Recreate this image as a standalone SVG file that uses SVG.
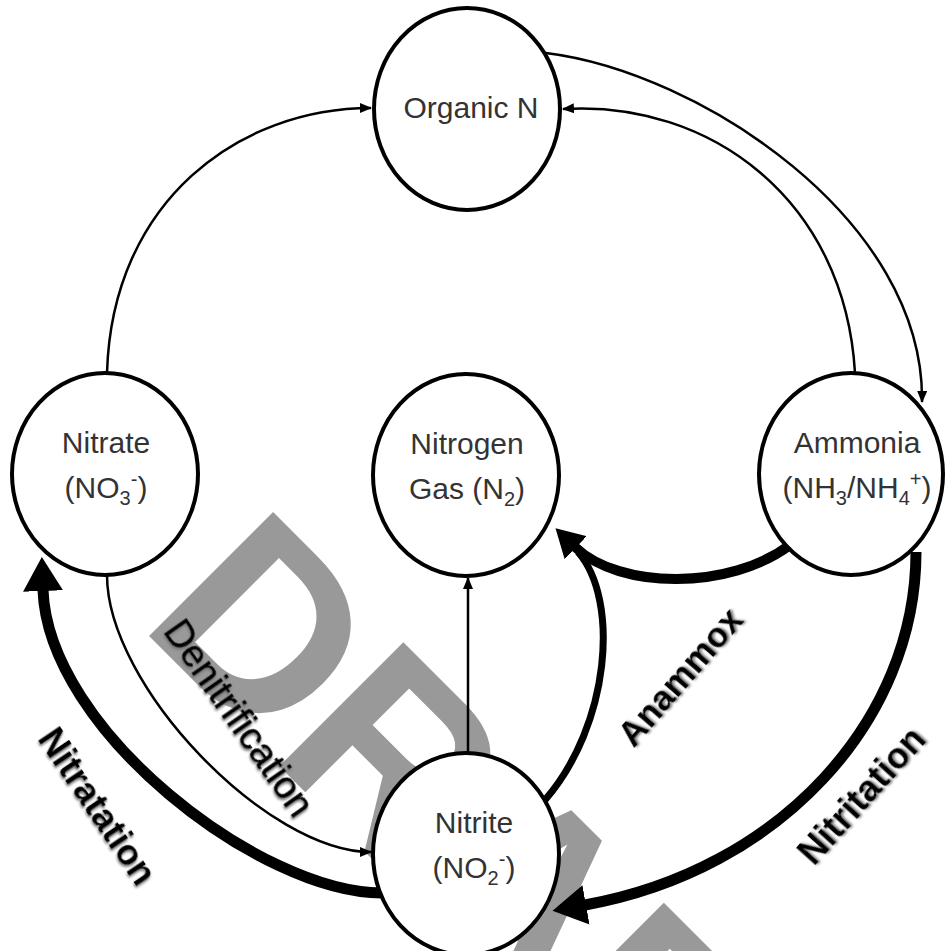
<svg xmlns="http://www.w3.org/2000/svg" width="946" height="951" viewBox="0 0 946 951">
<style>
.node ellipse{fill:#fff;stroke:#000;stroke-width:4}
.node text{font-family:"Liberation Sans",Arial,sans-serif;font-size:30px;fill:#333;text-anchor:middle}
.thin{fill:none;stroke:#000;stroke-width:2.5}
.thick{fill:none;stroke:#000;stroke-width:11}
.lbl{font-family:"Liberation Sans",Arial,sans-serif;font-weight:bold;font-size:36px;fill:#000;text-anchor:middle;filter:url(#shadow)}
.wm{font-family:"Liberation Sans",Arial,sans-serif;font-weight:bold;font-size:255px;fill:#999}
</style>
<defs>
<filter id="shadow" x="-10%" y="-30%" width="120%" height="160%"><feDropShadow dx="1.5" dy="1.5" stdDeviation="1" flood-color="#777"/></filter>
<marker id="ah-thin" viewBox="0 0 12 10" markerWidth="12" markerHeight="10" refX="11" refY="5" orient="auto" markerUnits="userSpaceOnUse"><path d="M0,0 L12,5 L0,10 z" fill="#000"/></marker>
<marker id="ah-big" viewBox="0 0 34 40" markerWidth="34" markerHeight="40" refX="1" refY="20" orient="auto" markerUnits="userSpaceOnUse"><path d="M0,0 L34,20 L0,40 z" fill="#000"/></marker>
<marker id="ah-med" viewBox="0 0 28 32" markerWidth="28" markerHeight="32" refX="1" refY="16" orient="auto" markerUnits="userSpaceOnUse"><path d="M0,0 L28,16 L0,32 z" fill="#000"/></marker>
</defs>
<rect width="946" height="951" fill="#fff"/>
<text class="wm" transform="translate(137,624) rotate(45)">DRAFT</text>
<g id="connectors">
<path class="thin" d="M107,373 C112,200 240,108 371,108" marker-end="url(#ah-thin)"/>
<path class="thin" d="M546,53 C700,72 925,220 922,402" marker-end="url(#ah-thin)"/>
<path class="thin" d="M855,373 C845,200 710,100 563,109" marker-end="url(#ah-thin)"/>
<path class="thin" d="M107,575 C107,686 267,852 371,852" marker-end="url(#ah-thin)"/>
<path class="thin" d="M468,753 L468,578" marker-end="url(#ah-thin)"/>
<path class="thick" d="M382,893 C260,893 48,730 43,590" marker-end="url(#ah-big)"/>
<path class="thick" d="M916,552 C916,720 780,870 585,905" marker-end="url(#ah-big)"/>
<path class="thick" style="stroke-width:10" d="M790,545 C730,590 620,590 575,547" marker-end="url(#ah-med)"/>
<path class="thick" style="stroke-width:7" d="M545,800 C610,725 620,600 578,552"/>
</g>
<g id="organic-n" class="node"><ellipse cx="467" cy="109" rx="93" ry="101"/><text x="471" y="118">Organic N</text></g>
<g id="nitrate" class="node"><ellipse cx="105" cy="474" rx="93" ry="101"/><text x="106" y="453">Nitrate</text><text x="106" y="498">(NO<tspan font-size="20" dy="7">3</tspan><tspan font-size="20" dy="-19">-</tspan><tspan dy="12">)</tspan></text></g>
<g id="nitrogen-gas" class="node"><ellipse cx="466" cy="475" rx="93" ry="101"/><text x="467" y="454">Nitrogen</text><text x="467" y="499">Gas (N<tspan font-size="20" dy="7">2</tspan><tspan dy="-7">)</tspan></text></g>
<g id="ammonia" class="node"><ellipse cx="851" cy="474" rx="92" ry="101"/><text x="857" y="453">Ammonia</text><text x="857" y="498">(NH<tspan font-size="20" dy="7">3</tspan><tspan dy="-7">/NH</tspan><tspan font-size="20" dy="7">4</tspan><tspan font-size="20" dy="-19">+</tspan><tspan dy="12">)</tspan></text></g>
<g id="nitrite" class="node"><ellipse cx="466" cy="854" rx="93" ry="101"/><text x="474" y="833">Nitrite</text><text x="474" y="878">(NO<tspan font-size="20" dy="7">2</tspan><tspan font-size="20" dy="-19">-</tspan><tspan dy="12">)</tspan></text></g>
<g id="labels">
<text class="lbl" style="font-weight:normal;font-size:38px;stroke:#000;stroke-width:0.7" transform="translate(239,718) rotate(55)" y="13">Denitrification</text>
<text class="lbl" transform="translate(98,806) rotate(56)" y="13">Nitratation</text>
<text class="lbl" transform="translate(861,795) rotate(-48)" y="13">Nitritation</text>
<text class="lbl" style="font-size:35px" transform="translate(680,677) rotate(-49)" y="12">Anammox</text>
</g>
</svg>
